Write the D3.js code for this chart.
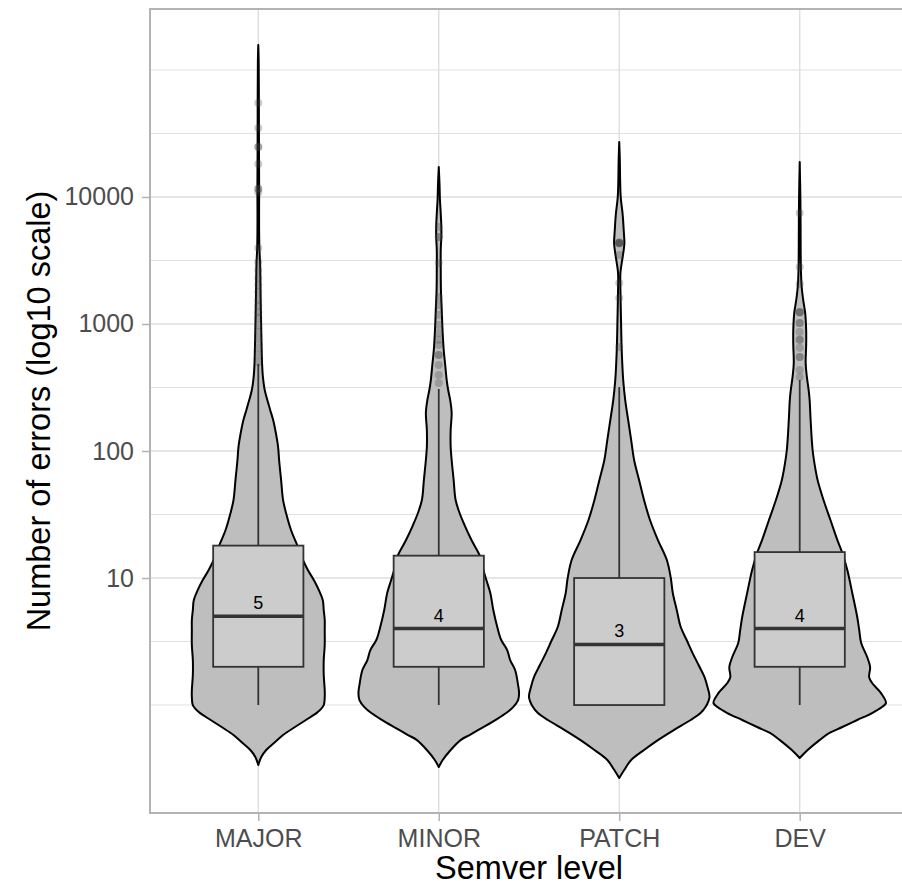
<!DOCTYPE html>
<html>
<head>
<meta charset="utf-8">
<script src="https://cdn.jsdelivr.net/npm/d3@7"></script>
<style>
  body { margin: 0; background: #fff; }
  text { font-family: "Liberation Sans", Arial, Helvetica, sans-serif; }
</style>
</head>
<body>
<div id="chart"></div>
<script>
const categories = ['MAJOR', 'MINOR', 'PATCH', 'DEV'];
const whiskerLow = [1, 1, 1, 1];
const q1 = [2, 2, 1, 2];
const medians = [5, 4, 3, 4];
const q3 = [18, 15, 10, 16];
const whiskerHigh = [485, 308, 319, 362];

const yTicks = [10, 100, 1000, 10000];
const yMinorTicks = [1, 3.162, 31.62, 316.2, 3162, 31623, 100000];

// violin outlines: [log10(errors), density]
const majorViolin = [[-0.472,0],[-0.409,0.03],[-0.354,0.08],[-0.291,0.17],[-0.236,0.25],[-0.173,0.37],[-0.118,0.48],[-0.055,0.60],[0,0.66],[0.063,0.67],[0.118,0.67],[0.236,0.66],[0.354,0.66],[0.472,0.67],[0.591,0.67],[0.669,0.67],[0.748,0.66],[0.827,0.65],[0.906,0.61],[0.984,0.56],[1.063,0.50],[1.142,0.45],[1.244,0.40],[1.378,0.33],[1.512,0.28],[1.614,0.25],[1.772,0.23],[1.929,0.21],[2.031,0.20],[2.130,0.18],[2.244,0.15],[2.323,0.12],[2.378,0.10],[2.480,0.065],[2.598,0.045],[2.693,0.038],[2.874,0.032],[3.189,0.024],[3.480,0.018],[3.598,0.011],[3.819,0.008],[4.055,0.009],[4.370,0.007],[4.764,0.006],[5.079,0.004],[5.197,0]];
const minorViolin = [[-0.488,0],[-0.433,0.04],[-0.354,0.12],[-0.276,0.22],[-0.236,0.31],[-0.173,0.45],[-0.118,0.57],[-0.063,0.68],[-0.016,0.75],[0.039,0.80],[0.094,0.81],[0.157,0.80],[0.276,0.77],[0.354,0.72],[0.433,0.69],[0.512,0.63],[0.614,0.59],[0.748,0.55],[0.882,0.52],[0.984,0.48],[1.063,0.45],[1.165,0.42],[1.299,0.33],[1.417,0.26],[1.512,0.21],[1.614,0.17],[1.772,0.15],[1.929,0.13],[2.031,0.12],[2.165,0.12],[2.299,0.13],[2.402,0.115],[2.480,0.095],[2.559,0.08],[2.677,0.065],[2.795,0.05],[2.953,0.038],[3.110,0.03],[3.268,0.022],[3.425,0.02],[3.583,0.02],[3.685,0.026],[3.764,0.026],[3.898,0.018],[3.976,0.012],[4.094,0.008],[4.236,0]];
const patchViolin = [[-0.575,0],[-0.512,0.05],[-0.433,0.12],[-0.354,0.25],[-0.276,0.39],[-0.197,0.55],[-0.118,0.72],[-0.063,0.82],[-0.016,0.87],[0.063,0.91],[0.142,0.89],[0.220,0.86],[0.315,0.80],[0.409,0.74],[0.512,0.68],[0.614,0.62],[0.748,0.58],[0.882,0.54],[1.0,0.52],[1.142,0.48],[1.299,0.39],[1.457,0.31],[1.614,0.25],[1.772,0.20],[1.929,0.15],[2.087,0.12],[2.244,0.09],[2.402,0.06],[2.559,0.04],[2.795,0.025],[3.031,0.018],[3.268,0.012],[3.402,0.012],[3.504,0.03],[3.583,0.045],[3.638,0.052],[3.740,0.045],[3.858,0.035],[4.0,0.015],[4.134,0.009],[4.291,0.006],[4.433,0]];
const devViolin = [[-0.417,0],[-0.354,0.08],[-0.276,0.20],[-0.220,0.30],[-0.173,0.43],[-0.118,0.58],[-0.063,0.73],[-0.016,0.83],[0.016,0.87],[0.094,0.82],[0.173,0.73],[0.220,0.70],[0.299,0.71],[0.378,0.68],[0.488,0.62],[0.591,0.60],[0.693,0.58],[0.882,0.53],[1.063,0.48],[1.197,0.43],[1.299,0.38],[1.457,0.31],[1.614,0.24],[1.772,0.18],[1.850,0.16],[2.008,0.13],[2.244,0.11],[2.402,0.10],[2.480,0.09],[2.598,0.07],[2.693,0.06],[2.835,0.065],[2.953,0.065],[3.087,0.055],[3.189,0.035],[3.291,0.02],[3.425,0.012],[3.740,0.009],[3.976,0.007],[4.276,0]];

// outlier points (number of errors)
const majorOutliers = [54900, 34900, 24800, 24800, 18200, 11600, 11600, 10900, 3970, 3080, 2660, 2300, 2030, 1790, 1550, 1390, 1240, 1120, 980, 865, 750, 650, 570, 500];
const minorOutliers = [5800, 4840, 4840, 3020, 1630, 1410, 1180, 980, 850, 750, 683, 570, 570, 475, 397, 343];
const patchOutliers = [4350, 4350, 4300, 4400, 4350, 3490, 2100, 1600, 660];
const devOutliers = [7480, 2810, 2070, 1240, 1240, 1240, 1020, 1020, 865, 750, 750, 650, 550, 550, 434, 383];

class ViolinPlot {
    constructor(_config) {
        this.config = {
            parentElement: _config.parentElement,
            containerWidth: _config.containerWidth || 902,
            containerHeight: _config.containerHeight || 887,
            margin: _config.margin || {top: 9, right: -6, bottom: 74, left: 150}
        };
        this.initVis();
        this.renderVis();
    }

    initVis() {
        let vis = this;

        vis.width = vis.config.containerWidth - vis.config.margin.left - vis.config.margin.right;
        vis.height = vis.config.containerHeight - vis.config.margin.top - vis.config.margin.bottom;

        vis.svg = d3.select(vis.config.parentElement)
            .append('svg')
            .attr('width', vis.config.containerWidth)
            .attr('height', vis.config.containerHeight);

        vis.chart = vis.svg.append('g')
            .attr('transform', `translate(${vis.config.margin.left},${vis.config.margin.top})`);

        vis.xScale = d3.scalePoint()
            .domain(categories)
            .range([0, vis.width])
            .padding(0.6);

        vis.yScale = d3.scaleLog()
            .domain([Math.pow(10, -0.85), Math.pow(10, 5.48)])
            .range([vis.height, 0]);

        vis.groups = categories.map((c, i) => ({
            key: c,
            violin: [majorViolin, minorViolin, patchViolin, devViolin][i],
            outliers: [majorOutliers, minorOutliers, patchOutliers, devOutliers][i],
            lo: whiskerLow[i], q1: q1[i], med: medians[i], q3: q3[i], hi: whiskerHigh[i]
        }));

        const maxDensity = d3.max(vis.groups, g => d3.max(g.violin, d => d[1]));
        vis.wScale = d3.scaleLinear()
            .domain([0, maxDensity])
            .range([0, vis.xScale.step() / 2]);

        vis.xAxis = d3.axisBottom(vis.xScale).tickSize(8).tickPadding(8);
        vis.yAxis = d3.axisLeft(vis.yScale)
            .tickValues(yTicks)
            .tickFormat(d3.format('d'))
            .tickSize(8)
            .tickPadding(8);
    }

    renderVis() {
        let vis = this;
        const grid = vis.chart.append('g').attr('class', 'grid');

        // minor and major gridlines
        grid.selectAll('.minor-y')
            .data(yMinorTicks)
            .join('line')
            .attr('x1', 0).attr('x2', vis.width)
            .attr('y1', d => vis.yScale(d)).attr('y2', d => vis.yScale(d))
            .attr('stroke', '#e0e0e0').attr('stroke-width', 1.1);

        grid.selectAll('.major-y')
            .data(yTicks)
            .join('line')
            .attr('x1', 0).attr('x2', vis.width)
            .attr('y1', d => vis.yScale(d)).attr('y2', d => vis.yScale(d))
            .attr('stroke', '#dedede').attr('stroke-width', 1.4);

        grid.selectAll('.major-x')
            .data(categories)
            .join('line')
            .attr('y1', 0).attr('y2', vis.height)
            .attr('x1', d => vis.xScale(d)).attr('x2', d => vis.xScale(d))
            .attr('stroke', '#dedede').attr('stroke-width', 1.4);

        const g = vis.chart.selectAll('.group')
            .data(vis.groups)
            .join('g')
            .attr('class', 'group')
            .attr('transform', d => `translate(${vis.xScale(d.key)},0)`);

        // violins
        const area = d3.area()
            .y(d => vis.yScale(Math.pow(10, d[0])))
            .x0(d => -vis.wScale(d[1]))
            .x1(d => vis.wScale(d[1]))
            .curve(d3.curveCatmullRom.alpha(0.5));

        g.append('path')
            .attr('d', d => area(d.violin))
            .attr('fill', '#bebebe')
            .attr('stroke', '#000')
            .attr('stroke-width', 2)
            .attr('stroke-linejoin', 'round');

        // boxplots
        const bw = vis.xScale.step() / 4;
        g.append('line')
            .attr('x1', 0).attr('x2', 0)
            .attr('y1', d => vis.yScale(d.hi)).attr('y2', d => vis.yScale(d.q3))
            .attr('stroke', '#333').attr('stroke-width', 1.8);
        g.append('line')
            .attr('x1', 0).attr('x2', 0)
            .attr('y1', d => vis.yScale(d.q1)).attr('y2', d => vis.yScale(d.lo))
            .attr('stroke', '#333').attr('stroke-width', 1.8);
        g.append('rect')
            .attr('x', -bw)
            .attr('width', bw * 2)
            .attr('y', d => vis.yScale(d.q3))
            .attr('height', d => vis.yScale(d.q1) - vis.yScale(d.q3))
            .attr('fill', '#cccccc')
            .attr('stroke', '#333')
            .attr('stroke-width', 1.8);
        g.append('line')
            .attr('x1', -bw).attr('x2', bw)
            .attr('y1', d => vis.yScale(d.med)).attr('y2', d => vis.yScale(d.med))
            .attr('stroke', '#333').attr('stroke-width', 3.6);

        // median labels
        g.append('text')
            .attr('x', 0)
            .attr('y', d => vis.yScale(d.med) - 7)
            .attr('text-anchor', 'middle')
            .attr('font-size', 18)
            .attr('fill', '#000')
            .text(d => d.med);

        // outliers
        g.selectAll('.point')
            .data(d => d.outliers)
            .join('circle')
            .attr('class', 'point')
            .attr('cx', 0)
            .attr('cy', d => vis.yScale(d))
            .attr('r', 4)
            .attr('fill', '#404040')
            .attr('fill-opacity', 0.28);

        // axes
        const xAxisG = vis.chart.append('g')
            .attr('transform', `translate(0,${vis.height})`)
            .call(vis.xAxis);
        const yAxisG = vis.chart.append('g').call(vis.yAxis);

        [xAxisG, yAxisG].forEach(a => {
            a.select('.domain').remove();
            a.selectAll('.tick line').attr('stroke', '#b3b3b3').attr('stroke-width', 1.5);
            a.selectAll('.tick text')
                .attr('fill', '#4d4d4d')
                .attr('font-size', 25)
                .attr('font-family', '"Liberation Sans", Arial, Helvetica, sans-serif');
        });

        // panel border
        vis.chart.append('rect')
            .attr('x', 0).attr('y', 0)
            .attr('width', vis.width).attr('height', vis.height)
            .attr('fill', 'none')
            .attr('stroke', '#b3b3b3')
            .attr('stroke-width', 2);

        // axis titles
        vis.svg.append('text')
            .attr('x', vis.config.margin.left + vis.width / 2)
            .attr('y', 879)
            .attr('text-anchor', 'middle')
            .attr('font-size', 32.5)
            .attr('fill', '#000')
            .text('Semver level');

        vis.svg.append('text')
            .attr('transform', `translate(50,${vis.config.margin.top + vis.height / 2}) rotate(-90)`)
            .attr('text-anchor', 'middle')
            .attr('font-size', 32.5)
            .attr('fill', '#000')
            .text('Number of errors (log10 scale)');
    }
}

new ViolinPlot({parentElement: '#chart'});
</script>
</body>
</html>
